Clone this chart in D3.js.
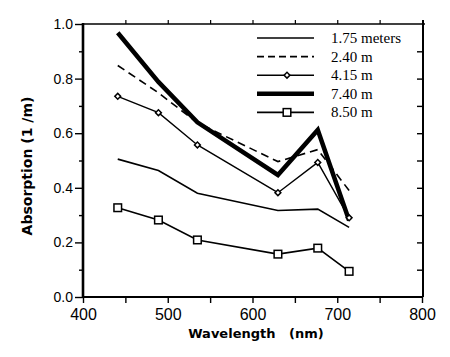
<!DOCTYPE html>
<html><head><meta charset="utf-8">
<script src="https://cdn.jsdelivr.net/npm/d3@7"></script>
<style>body{margin:0;background:#fff}svg{display:block}</style>
</head><body>
<svg id="c" width="450" height="357"></svg>
<script>
const wavelengths = [441, 489, 535, 630, 677, 714];
const s175 = [0.505, 0.463, 0.380, 0.317, 0.322, 0.255];
const s240 = [0.848, 0.748, 0.638, 0.496, 0.540, 0.390];
const s415 = [0.735, 0.675, 0.557, 0.382, 0.493, 0.290];
const s740 = [0.968, 0.788, 0.640, 0.447, 0.612, 0.280];
const s850 = [0.327, 0.282, 0.209, 0.157, 0.179, 0.094];
const seriesNames = ["1.75 meters", "2.40 m", "4.15 m", "7.40 m", "8.50 m"];
const xTicks = [400, 500, 600, 700, 800];
const yTicks = [0.0, 0.2, 0.4, 0.6, 0.8, 1.0];

const svg = d3.select("#c");
const L = 83, R = 423, T = 24, B = 297;
const x = d3.scaleLinear().domain([400, 800]).range([L, 422]);
const y = d3.scaleLinear().domain([0, 1]).range([B, T]);

const styles = [
  {w: 1.6, dash: null, mark: null},
  {w: 1.6, dash: "8,5", mark: null},
  {w: 1.4, dash: null, mark: "diamond"},
  {w: 4.5, dash: null, mark: null},
  {w: 1.6, dash: null, mark: "square"}
];
const data = [s175, s240, s415, s740, s850];

// axes
const gB = svg.append("g").attr("transform", `translate(0,${B})`)
  .call(d3.axisBottom(x).tickValues(d3.range(400, 801, 50)).tickSize(6).tickFormat(d => xTicks.includes(d) ? d : ""));
gB.select(".domain").remove();
gB.selectAll("line").attr("stroke", "#000").attr("stroke-width", 1.4);
gB.selectAll("text").attr("font-family", "Liberation Sans, Arial, sans-serif").attr("font-size", 16).attr("fill", "#000").attr("dy", "0.9em");

const gL = svg.append("g").attr("transform", `translate(${L},0)`)
  .call(d3.axisLeft(y).tickValues(yTicks).tickSize(8).tickPadding(2).tickFormat(d3.format(".1f")));
gL.select(".domain").remove();
gL.selectAll("line").attr("stroke", "#000").attr("stroke-width", 1.4);
gL.selectAll("text").attr("font-family", "Liberation Sans, Arial, sans-serif").attr("font-size", 14).attr("fill", "#000");

const gLm = svg.append("g").attr("transform", `translate(${L},0)`)
  .call(d3.axisLeft(y).tickValues([0.1, 0.3, 0.5, 0.7, 0.9]).tickSize(4).tickFormat(""));
gLm.select(".domain").remove();
gLm.selectAll("line").attr("stroke", "#000").attr("stroke-width", 1.4);

const gT = svg.append("g").attr("transform", `translate(0,${T})`)
  .call(d3.axisTop(x).tickValues(d3.range(450, 800, 50)).tickSize(4).tickFormat(""));
gT.select(".domain").remove();
gT.selectAll("line").attr("stroke", "#000").attr("stroke-width", 1.2);

const gR = svg.append("g").attr("transform", `translate(${R},0)`)
  .call(d3.axisLeft(y).tickValues(d3.range(1, 10).map(d => d / 10)).tickSize(6).tickFormat(""));
gR.select(".domain").remove();
gR.selectAll("line").attr("stroke", "#000").attr("stroke-width", 1.4);

// frame
svg.append("line").attr("x1", L).attr("x2", L).attr("y1", T - 1).attr("y2", B + 1).attr("stroke", "#000").attr("stroke-width", 2.6);
svg.append("line").attr("x1", L).attr("x2", R).attr("y1", B).attr("y2", B).attr("stroke", "#000").attr("stroke-width", 2.2);
svg.append("line").attr("x1", L).attr("x2", R + 2).attr("y1", T).attr("y2", T).attr("stroke", "#000").attr("stroke-width", 1.5);
svg.append("line").attr("x1", R).attr("x2", R).attr("y1", T - 4).attr("y2", B).attr("stroke", "#000").attr("stroke-width", 2);

// axis titles
svg.append("text").attr("x", 256).attr("y", 338).attr("text-anchor", "middle")
  .attr("font-family", "DejaVu Sans, sans-serif").attr("font-weight", "bold").attr("font-size", 13)
  .attr("fill", "#000").attr("xml:space", "preserve").text("Wavelength   (nm)");
svg.append("text").attr("transform", "translate(32,166) rotate(-90)").attr("text-anchor", "middle")
  .attr("font-family", "DejaVu Sans, sans-serif").attr("font-weight", "bold").attr("font-size", 14)
  .attr("fill", "#000").text("Absorption (1 /m)");

// lines
const line = d3.line().x((d, i) => x(wavelengths[i])).y(d => y(d));
data.forEach((s, k) => {
  const st = styles[k];
  svg.append("path").datum(s).attr("d", line).attr("fill", "none").attr("stroke", "#000")
    .attr("stroke-width", st.w).attr("stroke-dasharray", st.dash).attr("stroke-linejoin", "miter");
});

function marker(g, type, cx, cy) {
  if (type === "diamond") {
    g.append("path").attr("d", d3.symbol().type(d3.symbolSquare).size(17)())
      .attr("transform", `translate(${cx},${cy}) rotate(45)`)
      .attr("fill", "#fff").attr("stroke", "#000").attr("stroke-width", 1.5);
  } else if (type === "square") {
    g.append("rect").attr("x", cx - 3.8).attr("y", cy - 3.8).attr("width", 7.6).attr("height", 7.6)
      .attr("fill", "#fff").attr("stroke", "#000").attr("stroke-width", 1.5);
  }
}
data.forEach((s, k) => {
  const st = styles[k];
  if (!st.mark) return;
  s.forEach((v, i) => marker(svg, st.mark, x(wavelengths[i]), y(v)));
});

// legend
const lg = svg.append("g");
seriesNames.forEach((name, k) => {
  const st = styles[k];
  const yy = 38 + k * 18.6;
  lg.append("line").attr("x1", 257).attr("x2", 314).attr("y1", yy).attr("y2", yy)
    .attr("stroke", "#000").attr("stroke-width", st.w).attr("stroke-dasharray", st.dash ? "7,4" : null);
  if (st.mark) marker(lg, st.mark, 287, yy);
  lg.append("text").attr("x", 331).attr("y", yy + 5).attr("font-family", "Liberation Serif, Times New Roman, serif")
    .attr("font-size", 15).attr("fill", "#000").text(name);
});
</script>
</body></html>
